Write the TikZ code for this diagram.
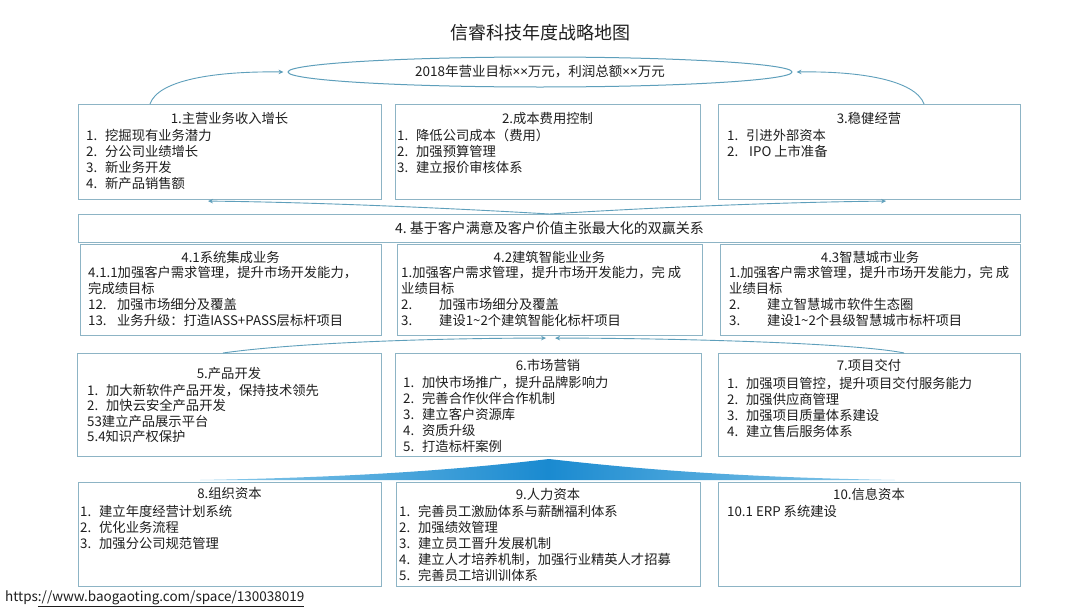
\documentclass[tikz,border=0pt]{standalone}
\usepackage{fontspec}
\setmainfont{Noto Sans CJK SC}
\newfontfamily\latinfont{Noto Sans}
\usetikzlibrary{arrows.meta,shapes.geometric}
\definecolor{bordc}{HTML}{8DB4C5}
\definecolor{linec}{HTML}{5E9FBB}
\definecolor{wedgeblue}{HTML}{1A8AD0}
\definecolor{wedgelight}{HTML}{8CCBEB}
\definecolor{txt}{HTML}{1E1E1E}
\newcommand{\itm}[2]{\makebox[19pt][l]{#1}#2}
\newcommand{\itmm}[2]{\makebox[29pt][l]{#1}#2}
\newcommand{\itmw}[2]{\makebox[38pt][l]{#1}#2}
\newcommand{\tms}{{\latinfont ×}}
\begin{document}
\begin{tikzpicture}[x=1pt,y=-1pt,
  box/.style={draw=bordc,line width=1.1pt,rectangle,inner sep=0pt,anchor=north west},
  ttl/.style={font=\fontsize{13.3}{16}\selectfont,text=txt,anchor=center,inner sep=0pt},
  lst/.style={font=\fontsize{13.3}{16}\selectfont,text=txt,align=left,anchor=north west,inner sep=0pt},
  conn/.style={draw=linec,line width=0.9pt,-{Stealth[length=5pt,width=4.5pt]}},
]
\useasboundingbox[fill=white] (0,0) rectangle (1080,608);

% title
\node[text=txt,font=\fontsize{18}{20}\selectfont,inner sep=0pt] (title) at (540,33) {信睿科技年度战略地图};

% goal ellipse
\node[ellipse,draw=linec,line width=1pt,minimum width=504pt,minimum height=30pt,inner sep=0pt,
      font=\fontsize{13.5}{16}\selectfont,text=txt] (goal) at (540,72) {2018年营业目标\tms\tms 万元，利润总额\tms\tms 万元};

% row 1
\node[box,minimum width=303pt,minimum height=95pt] (b1) at (78,104) {};
\node[box,minimum width=305pt,minimum height=95pt] (b2) at (395,104) {};
\node[box,minimum width=302pt,minimum height=95pt] (b3) at (718,104) {};
\node[ttl] (b1t) at (229.5,118) {1.主营业务收入增长};
\node[ttl] (b2t) at (547.5,118) {2.成本费用控制};
\node[ttl] (b3t) at (869,118) {3.稳健经营};
\node[lst] (b1l) at (86,129) {\itm{1.}{挖掘现有业务潜力}\\\itm{2.}{分公司业绩增长}\\\itm{3.}{新业务开发}\\\itm{4.}{新产品销售额}};
\node[lst] (b2l) at (397,129) {\itm{1.}{降低公司成本（费用）}\\\itm{2.}{加强预算管理}\\\itm{3.}{建立报价审核体系}};
\node[lst] (b3l) at (727,129) {\itm{1.}{引进外部资本}\\\itm{2.}{\hspace{3pt}IPO 上市准备}};

% banner
\node[box,minimum width=942pt,minimum height=28pt] (ban) at (78,214) {};
\node[font=\fontsize{14}{16}\selectfont,text=txt,inner sep=0pt] (bant) at (ban.center) {4.\ 基于客户满意及客户价值主张最大化的双赢关系};

% row 4.x
\node[box,minimum width=301pt,minimum height=91pt] (b41) at (80,244) {};
\node[box,minimum width=305pt,minimum height=91pt] (b42) at (397,244) {};
\node[box,minimum width=300pt,minimum height=91pt] (b43) at (720,244) {};
\node[ttl] (b41t) at (230.5,257) {4.1系统集成业务};
\node[ttl] (b42t) at (549.5,257) {4.2建筑智能业业务};
\node[ttl] (b43t) at (870,257) {4.3智慧城市业务};
\node[lst] (b41l) at (88,266) {4.1.1加强客户需求管理，提升市场开发能力，\\完成绩目标\\\itmm{12.}{加强市场细分及覆盖}\\\itmm{13.}{业务升级：打造IASS+PASS层标杆项目}};
\node[lst] (b42l) at (401,266) {1.加强客户需求管理，提升市场开发能力，完 成\\业绩目标\\\itmw{2.}{加强市场细分及覆盖}\\\itmw{3.}{建设1\textasciitilde 2个建筑智能化标杆项目}};
\node[lst] (b43l) at (729,266) {1.加强客户需求管理，提升市场开发能力，完 成\\业绩目标\\\itmw{2.}{建立智慧城市软件生态圈}\\\itmw{3.}{建设1\textasciitilde 2个县级智慧城市标杆项目}};

% row 5-7
\node[box,minimum width=304pt,minimum height=103pt] (b5) at (77,353) {};
\node[box,minimum width=306pt,minimum height=103pt] (b6) at (395,353) {};
\node[box,minimum width=302pt,minimum height=103pt] (b7) at (718,353) {};
\node[ttl] (b5t) at (229,373) {5.产品开发};
\node[ttl] (b6t) at (548,365) {6.市场营销};
\node[ttl] (b7t) at (869,365) {7.项目交付};
\node[lst,font=\fontsize{13.3}{15.5}\selectfont] (b5l) at (87,384) {\itm{1.}{加大新软件产品开发，保持技术领先}\\\itm{2.}{加快云安全产品开发}\\53建立产品展示平台\\5.4知识产权保护};
\node[lst] (b6l) at (403,376) {\itm{1.}{加快市场推广，提升品牌影响力}\\\itm{2.}{完善合作伙伴合作机制}\\\itm{3.}{建立客户资源库}\\\itm{4.}{资质升级}\\\itm{5.}{打造标杆案例}};
\node[lst] (b7l) at (727,377) {\itm{1.}{加强项目管控，提升项目交付服务能力}\\\itm{2.}{加强供应商管理}\\\itm{3.}{加强项目质量体系建设}\\\itm{4.}{建立售后服务体系}};

% row 8-10
\node[box,minimum width=303pt,minimum height=104pt] (b8) at (78,482) {};
\node[box,minimum width=304pt,minimum height=104pt] (b9) at (396,482) {};
\node[box,minimum width=302pt,minimum height=104pt] (b10) at (718,482) {};
\node[ttl] (b8t) at (229.5,493) {8.组织资本};
\node[ttl] (b9t) at (548,494) {9.人力资本};
\node[ttl] (b10t) at (869,494) {10.信息资本};
\node[lst] (b8l) at (80,505) {\itm{1.}{建立年度经营计划系统}\\\itm{2.}{优化业务流程}\\\itm{3.}{加强分公司规范管理}};
\node[lst] (b9l) at (399,505) {\itm{1.}{完善员工激励体系与薪酬福利体系}\\\itm{2.}{加强绩效管理}\\\itm{3.}{建立员工晋升发展机制}\\\itm{4.}{建立人才培养机制，加强行业精英人才招募}\\\itm{5.}{完善员工培训训体系}};
\node[lst] (b10l) at (727,505) {10.1 ERP 系统建设};

% blue wedge
\shade[left color=wedgelight,right color=wedgelight,middle color=wedgeblue]
  (200,480) .. controls (380,477) and (480,467) .. (549,459)
  .. controls (620,467) and (720,477) .. (895,480) -- cycle;

% connectors
\draw[conn] ([xshift=72pt]b1.north west) .. controls (158,80) and (215,71) .. ([xshift=-4pt]goal.west);
\draw[conn] ([xshift=-97pt]b3.north east) .. controls (915,80) and (860,71) .. ([xshift=4pt]goal.east);
\draw[conn] (ban.north) .. controls (430,207) and (300,202) .. ([xshift=130pt,yshift=-1pt]b1.south west);
\draw[conn] (ban.north) .. controls (660,207) and (790,202) .. ([xshift=-135pt,yshift=-1pt]b3.south east);
\draw[conn] ([xshift=146pt]b5.north west) .. controls (300,342) and (450,338) .. ([xshift=-4pt,yshift=-2pt]b42.south);
\draw[conn] ([xshift=-117pt]b7.north east) .. controls (850,342) and (650,338) .. ([xshift=5pt,yshift=-2pt]b42.south);

% url
\node[anchor=base west,inner sep=0pt,text=txt,font=\fontsize{13.5}{16}\selectfont] (url) at (5,601) {https\underline{://www.baogaoting.com/space/130038019}};
\end{tikzpicture}
\end{document}
